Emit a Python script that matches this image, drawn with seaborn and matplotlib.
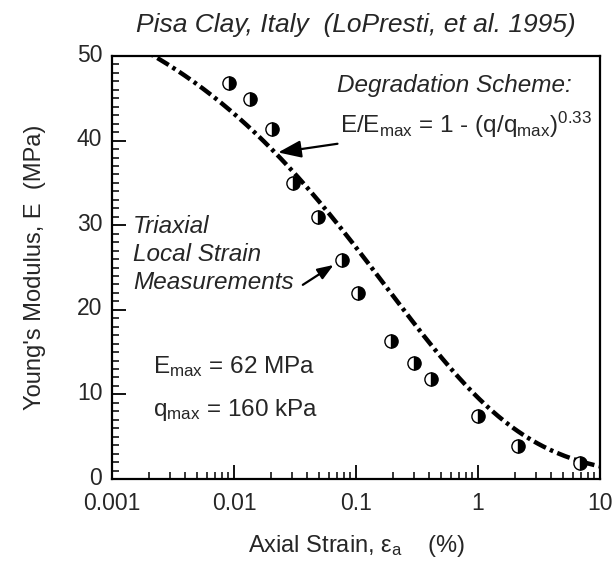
import numpy as np
import pandas as pd
import matplotlib
matplotlib.use("Agg")
import matplotlib.pyplot as plt
import matplotlib.transforms as mtransforms
from matplotlib.ticker import LogLocator, MultipleLocator, FixedLocator, FixedFormatter, NullFormatter
import seaborn as sns

# Measured points: axial strain (%) and Young's modulus (MPa)
strain_pct = [0.0091, 0.0135, 0.0205, 0.0305, 0.049, 0.077, 0.104,
              0.194, 0.30, 0.41, 1.0, 2.13, 6.9]
modulus_mpa = [46.8, 44.9, 41.4, 35.0, 31.0, 25.9, 22.0,
               16.3, 13.7, 11.8, 7.4, 3.9, 1.9]

# Degradation scheme parameters
E_MAX = 62.0      # MPa
Q_MAX = 160.0     # kPa
EXPONENT = 0.33

x_ticks = [0.001, 0.01, 0.1, 1, 10]
x_tick_labels = ["0.001", "0.01", "0.1", "1", "10"]
y_ticks = [0, 10, 20, 30, 40, 50]

# Model curve E/Emax = 1 - (q/qmax)^n, with q = E * strain
ratio = np.geomspace(1e-5, 0.999, 600)
curve_E = E_MAX * (1.0 - ratio ** EXPONENT)
curve_strain = (ratio * Q_MAX) / (curve_E * 1000.0) * 100.0
curve = pd.DataFrame({"strain": curve_strain, "E": curve_E})
points = pd.DataFrame({"strain": strain_pct, "E": modulus_mpa})

sns.set_theme(style="white")
plt.rcParams["font.family"] = ["Liberation Sans", "DejaVu Sans"]
plt.rcParams["mathtext.fontset"] = "custom"
plt.rcParams["mathtext.rm"] = "Liberation Sans"
plt.rcParams["mathtext.it"] = "Liberation Sans:italic"
plt.rcParams["mathtext.default"] = "regular"

fig = plt.figure(figsize=(6.16, 5.71), dpi=100)
ax = fig.add_axes([112 / 616, 92 / 571, 488 / 616, 423 / 571])

sns.lineplot(data=curve, x="strain", y="E", ax=ax, color="black",
             linewidth=3.2, sort=False, estimator=None,
             dashes=False, legend=False)
ax.lines[-1].set_dashes([3.0, 1.0, 0.8, 1.0])
ax.lines[-1].set_solid_capstyle("butt")

sns.lineplot(data=points, x="strain", y="E", ax=ax, color="black",
             linestyle="", marker="o", markersize=9.5, fillstyle="right",
             markerfacecolor="black", markerfacecoloralt="white",
             markeredgecolor="black", markeredgewidth=1.0,
             estimator=None, sort=False, legend=False)

ax.set_xscale("log")
ax.set_xlim(0.001, 10)
ax.set_ylim(0, 50)
ax.xaxis.set_major_locator(FixedLocator(x_ticks))
ax.xaxis.set_major_formatter(FixedFormatter(x_tick_labels))
ax.xaxis.set_minor_locator(LogLocator(base=10, subs=np.arange(2, 10)))
ax.xaxis.set_minor_formatter(NullFormatter())
ax.yaxis.set_major_locator(FixedLocator(y_ticks))
ax.yaxis.set_minor_locator(MultipleLocator(1))

ax.tick_params(axis="both", which="major", direction="in", length=10,
               width=1.3, labelsize=16.5, color="black",
               top=False, right=False, bottom=True, left=True)
ax.tick_params(axis="x", which="major", pad=9)
ax.tick_params(axis="y", which="major", pad=7)
ax.tick_params(axis="both", which="minor", direction="in", length=5,
               width=1.1, color="black", top=False, right=False,
               bottom=True, left=True)
for side in ["left", "right", "top", "bottom"]:
    ax.spines[side].set_visible(True)
    ax.spines[side].set_color("black")
    ax.spines[side].set_linewidth(1.6)

# y tick labels sit slightly above their ticks
lift = mtransforms.ScaledTranslation(0, 2.5 / 72, fig.dpi_scale_trans)
for lbl in ax.get_yticklabels():
    lbl.set_transform(lbl.get_transform() + lift)

ax.set_xlabel(r"Axial Strain, ε$_{a}$    (%)", fontsize=17, labelpad=13)
ax.set_ylabel("Young's Modulus, E  (MPa)", fontsize=17, labelpad=22)

fig.text(0.578, 0.956, "Pisa Clay, Italy  (LoPresti, et al. 1995)",
         fontsize=19, style="italic", ha="center", va="center")

ax.text(0.943, 0.931, "Degradation Scheme:", transform=ax.transAxes,
        fontsize=17.5, style="italic", ha="right", va="center")
ax.annotate(r"E/E$_{max}$ = 1 - (q/q$_{max}$)$^{0.33}$",
            xy=(0.0230, 38.6), xycoords="data",
            xytext=(0.467, 0.818), textcoords="axes fraction",
            fontsize=17.5, ha="left", va="baseline",
            arrowprops=dict(arrowstyle="-|>,head_length=0.8,head_width=0.3",
                            color="black", lw=1.6,
                            shrinkA=2, shrinkB=0))

tri_lines = ["Triaxial", "Local Strain", "Measurements"]
tri_y = [0.582, 0.516, 0.450]
for txt, yy in zip(tri_lines, tri_y):
    ax.text(0.043, yy, txt, transform=ax.transAxes, fontsize=17.5,
            style="italic", ha="left", va="baseline")
ax.annotate("", xy=(0.0655, 25.3), xycoords="data",
            xytext=(0.391, 0.459), textcoords="axes fraction",
            arrowprops=dict(arrowstyle="-|>,head_length=0.8,head_width=0.3",
                            color="black", lw=1.6, shrinkA=0, shrinkB=0))

ax.text(0.084, 0.251, r"E$_{max}$ = 62 MPa", transform=ax.transAxes,
        fontsize=17.5, ha="left", va="baseline")
ax.text(0.084, 0.150, r"q$_{max}$ = 160 kPa", transform=ax.transAxes,
        fontsize=17.5, ha="left", va="baseline")

fig.savefig("out.png", dpi=100, facecolor="white")
